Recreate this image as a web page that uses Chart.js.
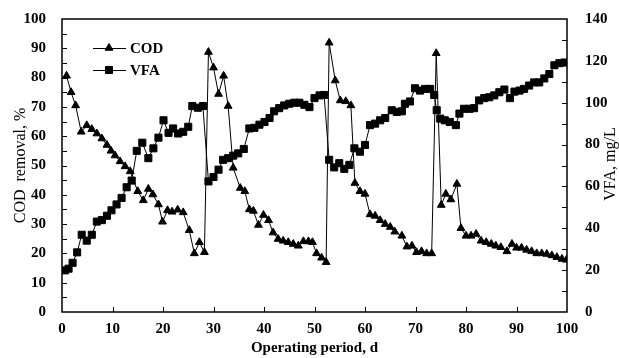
<!DOCTYPE html>
<html>
<head>
<meta charset="utf-8">
<script src="https://cdn.jsdelivr.net/npm/chart.js@4.4.1/dist/chart.umd.min.js"></script>
<style>
  html, body { margin: 0; padding: 0; background: #fff; }
  #wrap { width: 619px; height: 358px; position: relative; }
</style>
</head>
<body>
<div id="wrap"><canvas id="chart"></canvas></div>
<script>
// 운전 일수(d) / COD 제거율(%) / VFA(mg/L) - 그림에서 읽은 값
const codDays = [
    0.9, 1.8, 2.7, 3.8, 4.9, 5.9, 6.9, 7.9, 8.9, 9.7,
    10.5, 11.5, 12.5, 13.5, 15.0, 16.1, 17.1, 18.0, 19.1, 19.9,
    20.9, 21.8, 22.9, 24.0, 25.2, 26.2, 27.2, 28.2, 29.0, 30.0,
    31.0, 32.0, 32.9, 33.9, 35.3, 36.2, 37.1, 37.9, 38.9, 39.9,
    40.9, 41.8, 42.8, 43.8, 44.8, 45.8, 46.8, 47.8, 48.8, 49.6,
    50.4, 51.4, 52.3, 52.9, 54.1, 55.1, 56.2, 57.2, 58.0, 59.0,
    60.0, 61.0, 62.0, 63.0, 64.0, 65.0, 65.9, 67.3, 68.3, 69.3,
    70.2, 71.2, 72.2, 73.2, 74.1, 75.1, 76.0, 77.0, 78.2, 79.0,
    80.0, 81.0, 82.0, 83.0, 84.0, 85.0, 85.9, 86.9, 88.1, 89.1,
    90.0, 91.0, 92.0, 93.0, 94.0, 95.0, 96.0, 97.0, 98.0, 99.0, 99.9
];
const codRemoval = [
    80.6, 75, 70.5, 61.5, 63.7, 62.4, 60.9, 59.2, 57, 55,
    53.4, 51.4, 49.7, 48, 41.2, 38.1, 42, 40.1, 36.7, 30.8,
    34.7, 34.2, 34.9, 34, 27.9, 20, 23.8, 20.4, 88.7, 83.4,
    74.4, 80.6, 70.3, 49.2, 42.3, 41.2, 35, 34.5, 29.7, 33.1,
    31.3, 27.1, 24.9, 24.3, 23.8, 23.2, 22.6, 24.1, 24.1, 23.8,
    20, 18.5, 17, 91.9, 79, 72.2, 71.9, 70.5, 44, 41.2,
    40.3, 33.3, 32.8, 31.3, 30, 29, 27.4, 26, 22.3, 22.6,
    20.4, 20.7, 20, 20, 88.3, 36.5, 40.3, 38.4, 43.7, 28.6,
    26, 26, 26.6, 24.3, 23.8, 23.2, 22.6, 22.1, 20.7, 23.2,
    21.9, 21.9, 21.2, 20.7, 20, 20, 19.8, 19.3, 18.7, 18.1, 17.8
];
const vfaDays = [
    0.6, 1.3, 2.1, 3.0, 3.9, 4.9, 5.9, 6.9, 7.9, 8.9,
    9.8, 10.8, 11.8, 12.8, 13.8, 14.8, 15.9, 17.1, 18.1, 19.1,
    20.1, 21.1, 22.0, 23.0, 24.0, 25.0, 25.8, 26.9, 27.9, 29.0,
    30.0, 31.0, 31.9, 32.9, 33.9, 34.9, 36.0, 37.1, 38.1, 39.1,
    40.1, 41.1, 42.0, 43.0, 44.0, 45.0, 46.0, 47.0, 48.0, 49.0,
    50.0, 51.0, 51.9, 52.9, 53.9, 54.9, 55.9, 56.9, 57.9, 59.0,
    60.0, 61.0, 62.0, 63.0, 64.0, 65.3, 66.3, 67.3, 67.9, 68.9,
    69.9, 70.9, 71.9, 72.9, 73.7, 74.2, 74.9, 75.8, 76.8, 78.0,
    78.7, 79.6, 80.7, 81.6, 82.6, 83.6, 84.6, 85.6, 86.6, 87.6,
    88.7, 89.6, 90.6, 91.5, 92.5, 93.5, 94.5, 95.5, 96.5, 97.5,
    98.5, 99.5
];
const vfaConc = [
    19.9, 20.7, 23.5, 28.5, 36.9, 34.1, 36.9, 43.2, 43.9, 46,
    48.6, 51.4, 54.5, 59.6, 62.8, 77, 80.9, 73.5, 78.2, 83.3,
    91.6, 85.6, 87.7, 85.3, 86.1, 88.5, 98.4, 97.6, 98.4, 62.4,
    64.5, 68, 72.7, 73.5, 74.7, 75.8, 77.9, 87.7, 88, 89.5,
    90.8, 92.7, 95.9, 97.4, 98.7, 99.5, 100, 100, 99, 97.9,
    102.2, 103.5, 103.7, 72.7, 69.1, 71.1, 68.4, 70.3, 78.2, 76.6,
    79.8, 89.3, 90, 91.6, 92.7, 96.4, 95.6, 95.9, 99.5, 100.6,
    106.9, 105.8, 106.6, 106.6, 103.7, 96.4, 92.4, 91.6, 90.8, 89.3,
    94.8, 97.1, 97.1, 97.4, 101.1, 102.2, 102.6, 103.5, 105, 106.3,
    102.2, 105.3, 105.8, 106.6, 108.2, 109.7, 109.7, 111.6, 113.7, 117.9,
    118.9, 119.2
];
const seriesNames = ['COD', 'VFA'];
const xTicks = [0, 10, 20, 30, 40, 50, 60, 70, 80, 90, 100];
const leftTicks = [0, 10, 20, 30, 40, 50, 60, 70, 80, 90, 100];
const rightTicks = [0, 20, 40, 60, 80, 100, 120, 140];

const FONT = '"Liberation Serif", "Times New Roman", serif';
const tickFont = { family: FONT, size: 15, weight: 'bold' };
const titleFont = { family: FONT, size: 16 };

function toPoints(xs, ys) {
    return xs.map((x, i) => ({ x: x, y: ys[i] }));
}

function fixTicks(values) {
    return function (scale) {
        scale.ticks = values.map(v => ({ value: v }));
    };
}

// 1) 테두리 + 안쪽 눈금
const frameTicks = {
    id: 'frameTicks',
    afterDraw(chart) {
        const { ctx, chartArea: a, scales } = chart;
        ctx.save();
        ctx.strokeStyle = '#000';
        ctx.lineWidth = 1.5;
        ctx.strokeRect(a.left, a.top, a.right - a.left, a.bottom - a.top);

        ctx.lineWidth = 1;
        ctx.beginPath();
        for (let v = 5; v < 100; v += 5) {
            const y = Math.round(scales.y.getPixelForValue(v)) + 0.5;
            ctx.moveTo(a.left, y);
            ctx.lineTo(a.left + 5, y);
        }
        for (let v = 10; v < 140; v += 10) {
            const y = Math.round(scales.y1.getPixelForValue(v)) + 0.5;
            ctx.moveTo(a.right, y);
            ctx.lineTo(a.right - 5, y);
        }
        for (let v = 10; v < 100; v += 10) {
            const x = Math.round(scales.x.getPixelForValue(v)) + 0.5;
            ctx.moveTo(x, a.bottom);
            ctx.lineTo(x, a.bottom - 5);
        }
        ctx.stroke();
        ctx.restore();
    }
};

// 2) 범례(플롯 안쪽) + 오른쪽 축 제목
const innerLegend = {
    id: 'innerLegend',
    afterDraw(chart) {
        const { ctx } = chart;
        const rows = [
            { y: 48, style: 'triangle', radius: 4.5 },
            { y: 70, style: 'rect', radius: 5 }
        ];
        ctx.save();
        rows.forEach((r, i) => {
            ctx.strokeStyle = '#000';
            ctx.fillStyle = '#000';
            ctx.lineWidth = 1;
            ctx.beginPath();
            ctx.moveTo(93, r.y + 0.5);
            ctx.lineTo(126, r.y + 0.5);
            ctx.stroke();
            Chart.helpers.drawPoint(ctx, { pointStyle: r.style, radius: r.radius, rotation: 0, borderWidth: 1 }, 109, r.y);
            ctx.font = 'bold 15px ' + FONT;
            ctx.textBaseline = 'middle';
            ctx.textAlign = 'left';
            ctx.fillText(seriesNames[i], 130, r.y + 1);
        });

        ctx.translate(611, 164);
        ctx.rotate(-Math.PI / 2);
        ctx.font = '16px ' + FONT;
        ctx.textAlign = 'center';
        ctx.textBaseline = 'middle';
        ctx.fillText('VFA, mg/L', 0, 0);
        ctx.restore();
    }
};

new Chart(document.getElementById('chart'), {
    type: 'line',
    data: {
        datasets: [{
            label: seriesNames[0],
            data: toPoints(codDays, codRemoval),
            yAxisID: 'y',
            borderColor: '#000',
            borderWidth: 1,
            pointStyle: 'triangle',
            pointRadius: 4.5,
            pointBackgroundColor: '#000',
            pointBorderColor: '#000',
            pointBorderWidth: 1,
            tension: 0
        }, {
            label: seriesNames[1],
            data: toPoints(vfaDays, vfaConc),
            yAxisID: 'y1',
            borderColor: '#000',
            borderWidth: 1,
            pointStyle: 'rect',
            pointRadius: 5,
            pointBackgroundColor: '#000',
            pointBorderColor: '#000',
            pointBorderWidth: 1,
            tension: 0
        }]
    },
    options: {
        responsive: true,
        maintainAspectRatio: false,
        animation: false,
        layout: { padding: { top: 16, left: 0, right: 0, bottom: 0 } },
        plugins: {
            legend: { display: false },
            tooltip: { enabled: false }
        },
        scales: {
            x: {
                type: 'linear',
                min: 0,
                max: 100,
                afterBuildTicks: fixTicks(xTicks),
                afterFit(s) { s.height = 46; },
                grid: { display: false },
                border: { display: false },
                ticks: { font: tickFont, color: '#000', padding: 0, maxRotation: 0 },
                title: { display: true, text: 'Operating period, d', font: { family: FONT, size: 15, weight: 'bold' }, color: '#000', padding: { top: 0, bottom: 1 } }
            },
            y: {
                position: 'left',
                min: 0,
                max: 100,
                afterBuildTicks: fixTicks(leftTicks),
                afterFit(s) { s.width = 62; },
                grid: { display: false },
                border: { display: false },
                ticks: { font: tickFont, color: '#000', padding: 8 },
                title: { display: true, text: 'COD  removal, %', font: titleFont, color: '#000', padding: { top: 11, bottom: 0 } }
            },
            y1: {
                position: 'right',
                min: 0,
                max: 140,
                afterBuildTicks: fixTicks(rightTicks),
                afterFit(s) { s.width = 52; },
                grid: { display: false },
                border: { display: false },
                ticks: { font: tickFont, color: '#000', padding: 10 }
            }
        }
    },
    plugins: [frameTicks, innerLegend]
});
</script>
</body>
</html>
